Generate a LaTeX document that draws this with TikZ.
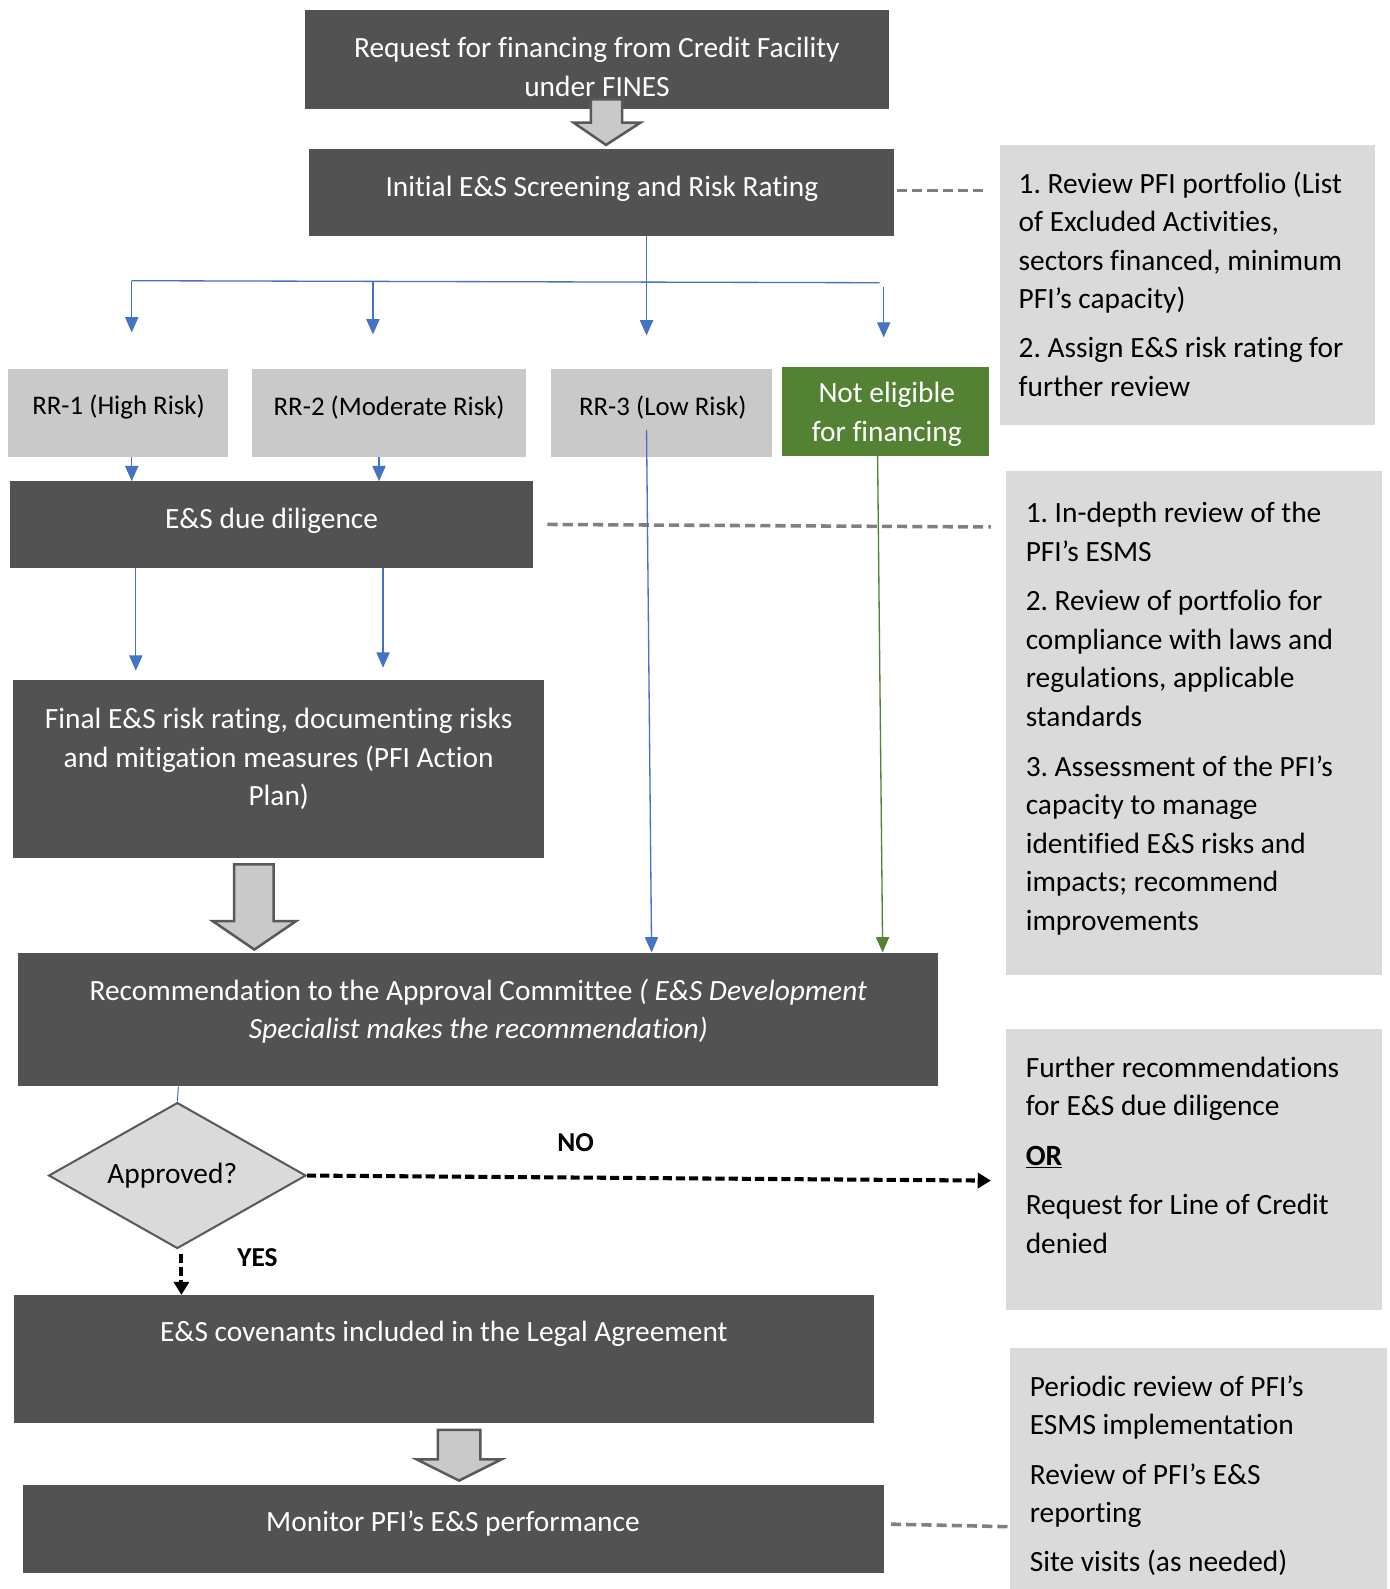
\documentclass[tikz,border=0pt]{standalone}
\usepackage{fontspec}
\setmainfont[Ligatures=NoCommon]{Carlito}
\usetikzlibrary{shapes.geometric,arrows.meta}
\definecolor{boxdark}{HTML}{525252}
\definecolor{boxlight}{HTML}{DADADA}
\definecolor{boxmid}{HTML}{C9C9C9}
\definecolor{boxgreen}{HTML}{548235}
\definecolor{lineblue}{HTML}{4472C4}
\definecolor{dashgray}{HTML}{808080}
\definecolor{edgegray}{HTML}{595959}
\begin{document}
\frenchspacing
\begin{tikzpicture}[x=1pt,y=-1pt,
  every node/.style={font=\fontsize{29}{38}\selectfont\frenchspacing, inner sep=0pt},
  dbox/.style={fill=boxdark, draw=none},
  lbox/.style={fill=boxlight, draw=none},
  mbox/.style={fill=boxmid, draw=none},
  wtext/.style={text=white, align=center},
  rrtext/.style={font=\fontsize{26.5}{34}\selectfont},
  gtext/.style={text=black, align=left, anchor=north west},
  fatarrow/.style={fill=boxmid, draw=edgegray, line width=2.5pt, line join=miter},
  bluearrow/.style={draw=lineblue, line width=1.3pt, -{Triangle[width=13pt,length=15pt]}},
  blueline/.style={draw=lineblue, line width=1.3pt},
  greenarrow/.style={draw=boxgreen, line width=1.3pt, -{Triangle[width=13pt,length=15pt]}},
  gdash/.style={draw=dashgray, line width=3.5pt, dash pattern=on 10pt off 5pt},
  kdash/.style={draw=black, line width=4pt, dash pattern=on 9pt off 4pt, -{Triangle[width=15pt,length=13pt]}},
  bold label/.style={font=\fontsize{27}{32}\selectfont\bfseries}
]
\useasboundingbox (0,0) rectangle (1371,1568);
\fill[white] (0,0) rectangle (1371,1568);

% ---------- top boxes ----------
\node[dbox, minimum width=576pt, minimum height=98pt] (B1) at (589,59) {};
\node[wtext] (B1t) at (589,66) {Request for financing from Credit Facility\\under FINES};

\node[dbox, minimum width=577pt, minimum height=86pt] (B2) at (593.5,190) {};
\node[wtext] (B2t) at (594,186) {Initial E\&S Screening and Risk Rating};

% fat arrow 1
\draw[fatarrow] (583,98) -- (614,98) -- (614,121) -- (632,121) -- (598,143) -- (566,121) -- (583,121) -- cycle;

% right box 1
\node[lbox, minimum width=370pt, minimum height=276pt] (R1) at (1172,281) {};
\node[gtext] (R1t) at (1005,164) {\strut 1. Review PFI portfolio (List\\of Excluded Activities,\\sectors financed, minimum\\PFI’s capacity)\\[10pt]2. Assign E\&S risk rating for\\further review};

\draw[gdash] ([xshift=3pt,yshift=2pt]B2.east) -- ([xshift=-12pt,yshift=93pt]R1.west);

% ---------- risk rating row ----------
\node[mbox, minimum width=217pt, minimum height=87pt] (RR1) at (116.5,407.5) {};
\node[rrtext] (RR1t) at (117,402) {RR-1 (High Risk)};
\node[mbox, minimum width=270pt, minimum height=87pt] (RR2) at (384,407.5) {};
\node[rrtext] (RR2t) at (384,402) {RR-2 (Moderate Risk)};
\node[mbox, minimum width=218pt, minimum height=87pt] (RR3) at (653,407.5) {};
\node[rrtext] (RR3t) at (654,402) {RR-3 (Low Risk)};
\node[fill=boxgreen, minimum width=204pt, minimum height=88pt] (NE) at (874,406) {};
\node[wtext] (NEt) at (875,409) {Not eligible\\for financing};

% blue distribution
\coordinate (J) at (638,277);
\coordinate (HL) at (130,277);
\coordinate (HR) at (868,279);
\coordinate (A1) at (130,328);
\coordinate (A2) at (368,277);
\coordinate (A2e) at (368,330);
\coordinate (A3e) at (638,331);
\coordinate (A4) at (872,283);
\coordinate (A4e) at (872,333);
\draw[blueline] ([xshift=44.5pt]B2.south) -- (J);
\draw[blueline] (HL) -- (HR);
\draw[bluearrow] (HL) -- (A1);
\draw[bluearrow] (A2) -- (A2e);
\draw[bluearrow] (J) -- (A3e);
\draw[bluearrow] (A4) -- (A4e);

% ---------- due diligence ----------
\node[dbox, minimum width=516pt, minimum height=85pt] (DD) at (268,517.5) {};
\node[wtext] (DDt) at (268,514) {E\&S due diligence};

\draw[bluearrow] ([xshift=13.5pt]RR1.south) -- ([xshift=-138pt]DD.north);
\draw[bluearrow] ([xshift=-10pt]RR2.south) -- ([xshift=106pt]DD.north);

\node[lbox, minimum width=371pt, minimum height=497pt] (R2) at (1178.5,713.5) {};
\node[gtext] (R2t) at (1012,489) {\strut 1. In-depth review of the\\PFI’s ESMS\\[11pt]2. Review of portfolio for\\compliance with laws and\\regulations, applicable\\standards\\[11pt]3. Assessment of the PFI’s\\capacity to manage\\identified E\&S risks and\\impacts; recommend\\improvements};

\draw[gdash] ([xshift=14pt]DD.east) -- ([xshift=-15pt,yshift=193.5pt]R2.west);

% ---------- final rating ----------
\node[dbox, minimum width=524pt, minimum height=176pt] (FR) at (275,759) {};
\node[wtext] (FRt) at (275,749) {Final E\&S risk rating, documenting risks\\and mitigation measures (PFI Action\\Plan)};

\draw[bluearrow] ([xshift=-134pt]DD.south) -- ([xshift=-141pt,yshift=9pt]FR.north);
\draw[bluearrow] ([xshift=110pt]DD.south) -- ([xshift=103pt,yshift=12pt]FR.north);

% fat arrow 2
\draw[fatarrow] (231,853) -- (270,853) -- (270,909) -- (292,909) -- (251,937) -- (210,909) -- (231,909) -- cycle;

% ---------- recommendation ----------
\node[dbox, minimum width=908pt, minimum height=132pt] (REC) at (472,1006) {};
\node[wtext] (RECt) at (472,998) {Recommendation to the Approval Committee \textit{( E\&S Development}\\\textit{Specialist makes the recommendation)}};

\draw[bluearrow] ([xshift=-15pt,yshift=27pt]RR3.south) -- ([xshift=171pt]REC.north);
\draw[greenarrow] ([xshift=-8pt]NE.south) -- ([xshift=399pt]REC.north);

% ---------- decision ----------
\node[diamond, aspect=1.76, fill=boxlight, draw=edgegray, line width=2pt, minimum width=254pt, minimum height=144pt] (D) at (175,1160) {};
\node (Dt) at (170,1160) {Approved?};
\draw[blueline, line width=1pt] ([xshift=-296pt]REC.south) -- (D.north);

\node[lbox, minimum width=371pt, minimum height=278pt] (R3) at (1178.5,1154) {};
\node[gtext] (R3t) at (1012,1036) {\strut Further recommendations\\for E\&S due diligence\\[11pt]\textbf{\underline{OR}}\\[11pt]Request for Line of Credit\\denied};

\draw[kdash] (D.east) -- ([xshift=-15pt,yshift=-11pt]R3.west);
\node[bold label] (NO) at (568,1128) {NO};
\node[bold label] (YES) at (254,1241) {YES};

% ---------- covenants ----------
\node[dbox, minimum width=848pt, minimum height=126pt] (COV) at (438,1341) {};
\node[wtext] (COVt) at (438,1316) {E\&S covenants included in the Legal Agreement};
\draw[kdash] ([xshift=4pt,yshift=-4pt]D.south) -- ([xshift=-259pt]COV.north);

% fat arrow 3
\draw[fatarrow] (432,1411) -- (474,1411) -- (474,1440) -- (495,1440) -- (453,1461) -- (411,1440) -- (432,1440) -- cycle;

% ---------- monitor ----------
\node[dbox, minimum width=849pt, minimum height=87pt] (MON) at (447.5,1508.5) {};
\node[wtext] (MONt) at (447,1503) {Monitor PFI’s E\&S performance};

\node[lbox, minimum width=372pt, minimum height=250pt] (R4) at (1183,1455) {};
\node[gtext] (R4t) at (1016,1351) {\strut Periodic review of PFI’s\\ESMS implementation\\[11pt]Review of PFI’s E\&S\\reporting\\[10pt]Site visits (as needed)};

\draw[gdash] ([xshift=7pt,yshift=4.5pt]MON.east) -- ([xshift=-2pt,yshift=-51.5pt]R4.west);
\end{tikzpicture}
\end{document}
